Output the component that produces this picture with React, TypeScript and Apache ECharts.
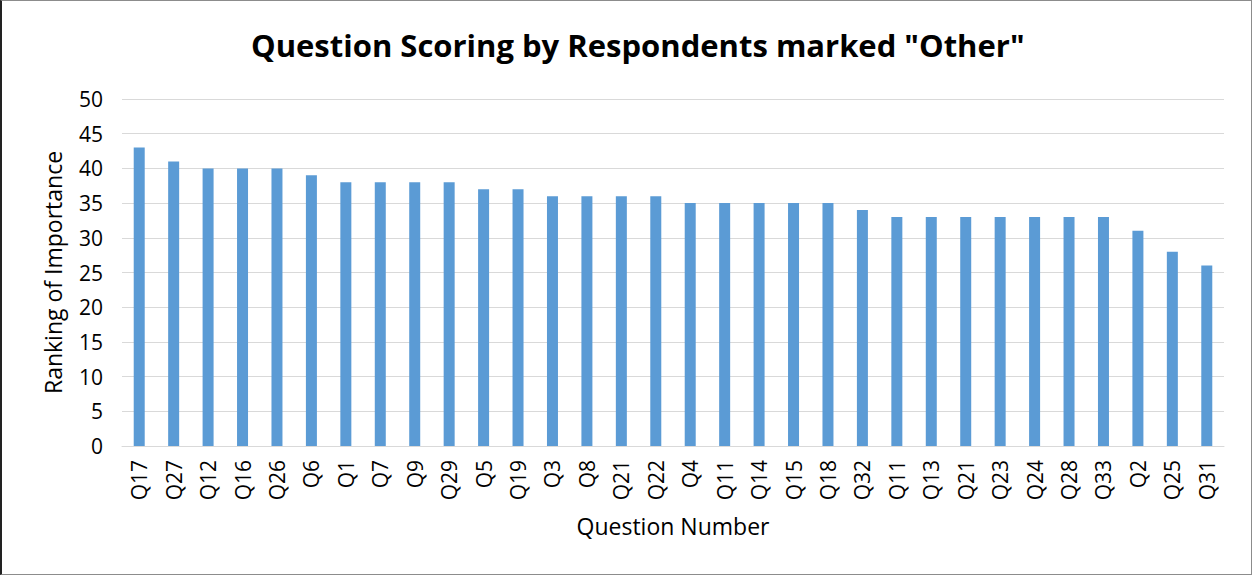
import React, { useEffect, useRef } from "react";
import * as echarts from "echarts";

const titleText = 'Question Scoring by Respondents marked "Other"';
const categories = ["Q17","Q27","Q12","Q16","Q26","Q6","Q1","Q7","Q9","Q29","Q5","Q19","Q3","Q8","Q21","Q22","Q4","Q11","Q14","Q15","Q18","Q32","Q11","Q13","Q21","Q23","Q24","Q28","Q33","Q2","Q25","Q31"];
const scores = [43,41,40,40,40,39,38,38,38,38,37,37,36,36,36,36,35,35,35,35,35,34,33,33,33,33,33,33,33,31,28,26];
const yAxisName = "Ranking of Importance";
const xAxisName = "Question Number";

const FONT = "'Open Sans', 'Noto Sans', sans-serif";

export default function App() {
  const ref = useRef<HTMLDivElement>(null);
  useEffect(() => {
    document.body.style.margin = "0";
    const chart = echarts.init(ref.current!, null, { renderer: "svg" });
    chart.setOption({
      animation: false,
      backgroundColor: "transparent",
      title: {
        text: titleText,
        left: 246,
        top: 24,
        textStyle: { fontFamily: FONT, fontSize: 31, fontWeight: "bold", color: "#000" },
      },
      grid: { left: 122, right: 28, top: 99, bottom: 129 },
      xAxis: {
        type: "category",
        data: categories,
        name: xAxisName,
        nameLocation: "middle",
        nameGap: 68,
        nameTextStyle: { fontFamily: FONT, fontSize: 23, color: "#000" },
        axisLine: { lineStyle: { color: "#d9d9d9", width: 1 } },
        axisTick: { show: false },
        axisLabel: {
          rotate: 90,
          interval: 0,
          margin: 14,
          fontFamily: FONT,
          fontSize: 21,
          color: "#000",
        },
      },
      yAxis: {
        type: "value",
        min: 0,
        max: 50,
        interval: 5,
        name: yAxisName,
        nameLocation: "middle",
        nameGap: 58,
        nameTextStyle: { fontFamily: FONT, fontSize: 23, color: "#000" },
        axisLine: { show: false },
        axisTick: { show: false },
        axisLabel: { margin: 19, fontFamily: FONT, fontSize: 21, color: "#000" },
        splitLine: { lineStyle: { color: "#d9d9d9", width: 1 } },
      },
      series: [
        {
          type: "bar",
          data: scores,
          barWidth: 11,
          itemStyle: { color: "#5b9bd5" },
        },
      ],
    });
    return () => chart.dispose();
  }, []);
  return (
    <div style={{ position: "relative", width: 1252, height: 575, background: "#fff" }}>
      <div ref={ref} style={{ position: "absolute", left: 0, top: 0, width: 1252, height: 575 }} />
      <div
        style={{
          position: "absolute",
          left: 0,
          top: 0,
          width: 1252,
          height: 575,
          boxSizing: "border-box",
          border: "1px solid #8c8c8c",
          borderLeft: "2px solid #222",
          pointerEvents: "none",
        }}
      />
    </div>
  );
}
